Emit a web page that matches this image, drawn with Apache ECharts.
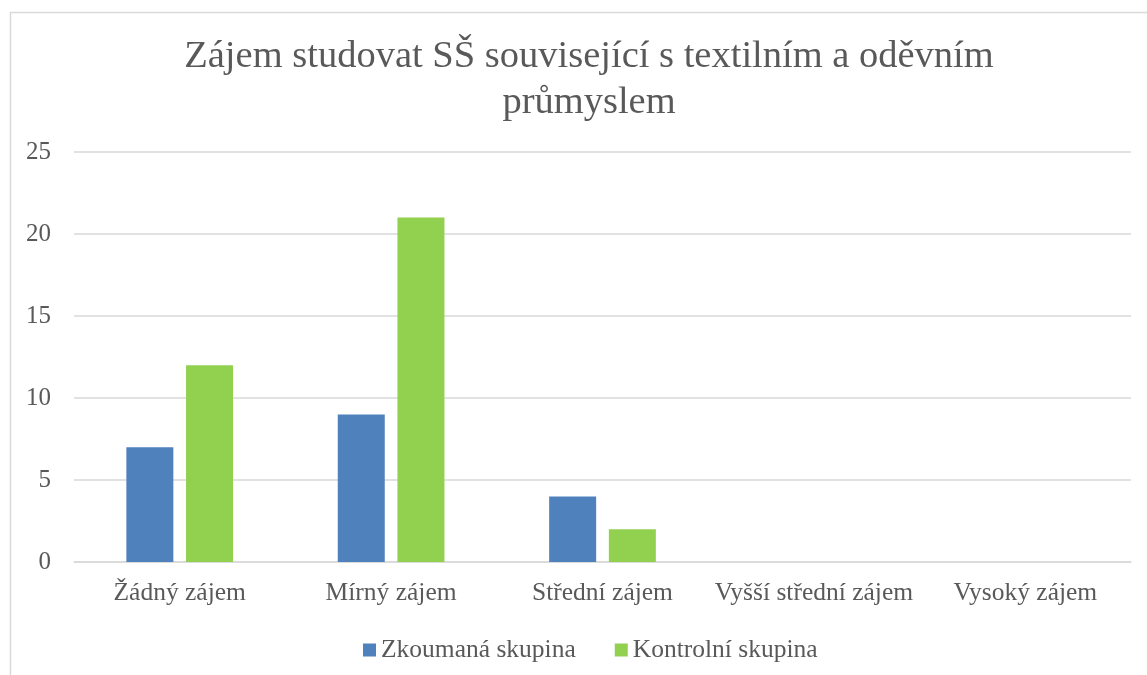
<!DOCTYPE html>
<html>
<head>
<meta charset="utf-8">
<script src="https://cdn.jsdelivr.net/npm/echarts@6/dist/echarts.min.js"></script>
<style>
html,body{margin:0;padding:0;background:#fff;}
#chart{width:1147px;height:675px;}
</style>
</head>
<body>
<div id="chart"></div>
<script>
const titleText = 'Zájem studovat SŠ související s textilním a oděvním\nprůmyslem';
const categories = ['Žádný zájem', 'Mírný zájem', 'Střední zájem', 'Vyšší střední zájem', 'Vysoký zájem'];
const seriesNames = ['Zkoumaná skupina', 'Kontrolní skupina'];
const zkoumana = [7, 9, 4, 0, 0];
const kontrolni = [12, 21, 2, 0, 0];
const yTicks = [0, 5, 10, 15, 20, 25];

const FONT = "'Liberation Serif', serif";
const TXT = '#595959';
const chart = echarts.init(document.getElementById('chart'));
chart.setOption({
  animation: false,
  backgroundColor: '#fff',
  textStyle: { fontFamily: FONT },
  graphic: [{
    type: 'rect', left: 8, top: 10, silent: true,
    shape: { width: 1200, height: 700 },
    style: { fill: 'none', stroke: '#d9d9d9', lineWidth: 1.5 }
  }],
  title: {
    text: titleText, left: 584, top: 29, textAlign: 'center',
    textStyle: { fontFamily: FONT, fontSize: 38.5, fontWeight: 'normal', color: TXT, lineHeight: 46 }
  },
  legend: {
    data: seriesNames, bottom: 12, left: 363, padding: 0,
    icon: 'rect', itemWidth: 13, itemHeight: 13, itemGap: 39,
    textStyle: { fontFamily: FONT, fontSize: 25.5, color: TXT }
  },
  grid: { left: 74, right: 16, top: 152, bottom: 113, containLabel: false },
  xAxis: {
    type: 'category', data: categories,
    axisLine: { lineStyle: { color: '#d9d9d9', width: 1.5 } },
    axisTick: { show: false },
    axisLabel: { fontFamily: FONT, fontSize: 25.5, color: TXT, margin: 18, interval: 0 }
  },
  yAxis: {
    type: 'value', min: 0, max: yTicks[yTicks.length - 1], interval: 5,
    axisLine: { show: false }, axisTick: { show: false },
    splitLine: { lineStyle: { color: '#d9d9d9', width: 1.5 } },
    axisLabel: { fontFamily: FONT, fontSize: 25, color: TXT, margin: 23 }
  },
  series: [
    { name: seriesNames[0], type: 'bar', data: zkoumana, barWidth: 47, barGap: '27%',
      itemStyle: { color: '#4F81BD' } },
    { name: seriesNames[1], type: 'bar', data: kontrolni, barWidth: 47, barGap: '27%',
      itemStyle: { color: '#92D050' } }
  ]
});
</script>
</body>
</html>
